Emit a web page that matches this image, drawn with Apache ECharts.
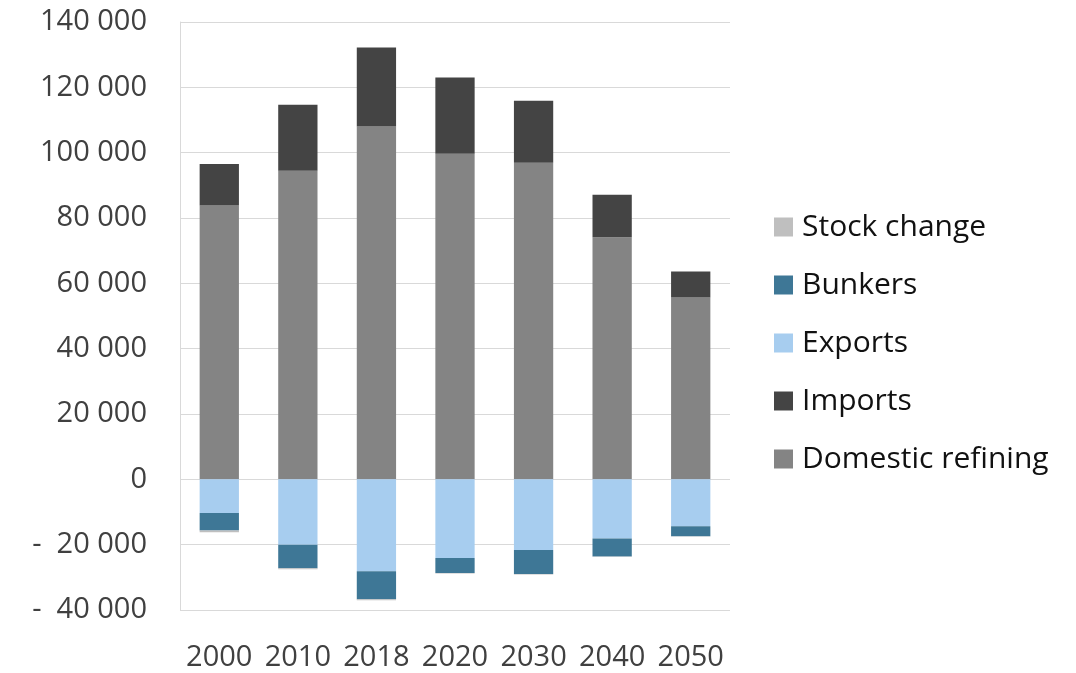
<!DOCTYPE html>
<html>
<head>
<meta charset="utf-8">
<script src="https://cdn.jsdelivr.net/npm/echarts@6/dist/echarts.min.js"></script>
<style>
  html, body { margin: 0; padding: 0; background: #ffffff; }
  #chart { width: 1076px; height: 673px; }
</style>
</head>
<body>
<div id="chart"></div>
<script>
// Oil product supply and disposal by year
const years = ['2000', '2010', '2018', '2020', '2030', '2040', '2050'];
const domesticRefining = [83800, 94500, 108000, 99700, 96900, 74100, 55700];
const imports = [12700, 20200, 24200, 23300, 19000, 13000, 7900];
const exportsVol = [-10300, -20000, -28100, -24100, -21600, -18100, -14400];
const bunkers = [-5400, -7200, -8600, -4600, -7400, -5500, -3000];
const stockChange = [-500, -300, -300, -100, -100, -100, -100];

const yMin = -40000, yMax = 140000, yStep = 20000;

const fontFamily = '"Open Sans", "Noto Sans", sans-serif';

function fmt(v) {
  const s = Math.abs(v).toString().replace(/\B(?=(\d{3})+(?!\d))/g, ' ');
  return v < 0 ? '-  ' + s : s;
}

const chart = echarts.init(document.getElementById('chart'), null, { renderer: 'canvas' });

function bar(name, data, color) {
  return {
    name: name,
    type: 'bar',
    stack: 'total',
    data: data,
    barWidth: '50%',
    itemStyle: { color: color },
    emphasis: { disabled: true }
  };
}

chart.setOption({
  animation: false,
  backgroundColor: '#ffffff',
  grid: { left: 180, right: 346, top: 22, bottom: 63, containLabel: false },
  legend: {
    orient: 'vertical',
    left: 769,
    top: 205,
    itemWidth: 19,
    itemHeight: 19,
    itemGap: 24,
    icon: 'rect',
    data: ['Stock change', 'Bunkers', 'Exports', 'Imports', 'Domestic refining'],
    textStyle: { fontFamily: fontFamily, fontSize: 30, color: '#111111', lineHeight: 34, padding: [0, 0, 0, 4] }
  },
  xAxis: {
    type: 'category',
    data: years,
    axisLine: { show: false },
    axisTick: { show: false },
    axisLabel: { interval: 0, fontFamily: fontFamily, fontSize: 29, color: '#404040', margin: 33 }
  },
  yAxis: {
    type: 'value',
    min: yMin,
    max: yMax,
    interval: yStep,
    axisLine: { show: true, lineStyle: { color: '#d9d9d9', width: 1 } },
    axisTick: { show: false },
    splitLine: { lineStyle: { color: '#d9d9d9', width: 1 } },
    axisLabel: { fontFamily: fontFamily, fontSize: 29, color: '#404040', margin: 33, formatter: fmt }
  },
  series: [
    bar('Domestic refining', domesticRefining, '#848484'),
    bar('Imports', imports, '#444444'),
    bar('Exports', exportsVol, '#a7cdef'),
    bar('Bunkers', bunkers, '#3e7796'),
    bar('Stock change', stockChange, '#bfbfbf')
  ]
});
</script>
</body>
</html>
